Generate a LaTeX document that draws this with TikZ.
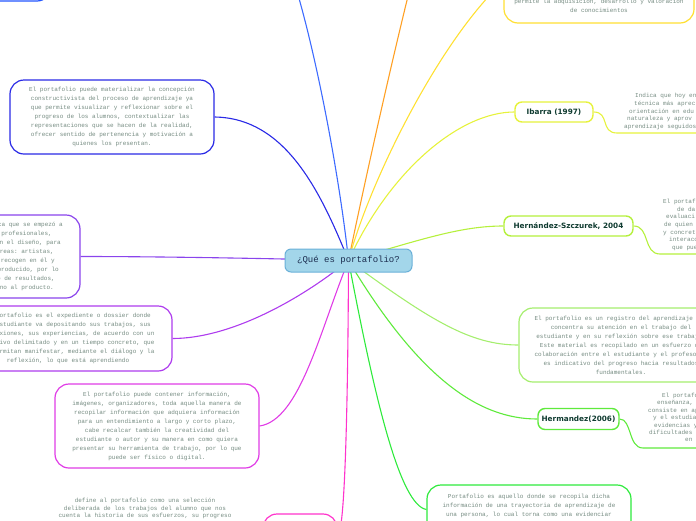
\documentclass[tikz,border=0pt]{standalone}
\usepackage{fontspec}
\setmonofont{Liberation Mono}
\newfontfamily\authfont{DejaVu Sans}
\usetikzlibrary{backgrounds}
\definecolor{txtc}{HTML}{768C82}
\definecolor{authc}{HTML}{0F3B30}
\definecolor{qfill}{HTML}{A3D6EA}
\definecolor{qborder}{HTML}{6AB0D8}
\definecolor{qtext}{HTML}{1C2D4F}
\definecolor{ctop}{HTML}{3D6BFF}
\definecolor{ctl}{HTML}{2255FF}
\definecolor{corange}{HTML}{FFA024}
\definecolor{cyellow}{HTML}{FFE033}
\definecolor{ciba}{HTML}{E6F23C}
\definecolor{chsz}{HTML}{B5F03C}
\definecolor{csix}{HTML}{A5EE6E}
\definecolor{choz}{HTML}{5FEA3C}
\definecolor{ceight}{HTML}{2EEA3C}
\definecolor{cpink}{HTML}{FF33CC}
\definecolor{cten}{HTML}{E03CE6}
\definecolor{celeven}{HTML}{AE3CEE}
\definecolor{ctwelve}{HTML}{8A44EC}
\definecolor{cthirteen}{HTML}{2A2AE6}
\newcommand\bxfont{\ttfamily\fontsize{6}{9}\selectfont}
\newcommand\kidfont{\ttfamily\fontsize{6}{7.6}\selectfont}
\newcommand\kidfontb{\ttfamily\fontsize{6}{7.4}\selectfont}
\begin{document}
\begin{tikzpicture}[x=1pt,y=-1pt,
  qbox/.style={draw=qborder, fill=qfill, line width=1pt, rounded corners=6pt, minimum width=127pt, minimum height=23pt, inner sep=0pt, font=\ttfamily\fontsize{9}{11}\selectfont, text=qtext},
  bigbox/.style={draw, line width=1.2pt, rounded corners=14pt, fill=white, inner sep=0pt},
  boxtext/.style={align=center, font=\bxfont, text=txtc},
  authbox/.style={draw, line width=1.4pt, rounded corners=7pt, fill=white, inner sep=0pt, font=\authfont\bfseries\fontsize{7.3}{9}\selectfont, text=authc, minimum height=20pt},
  kid/.style={align=left, font=\kidfont, text=txtc, inner sep=0pt, anchor=west},
  conn/.style={line width=1.1pt}]
\useasboundingbox (0,0) rectangle (696,520);

% central topic
\node[qbox] (q) at (348.5,260.5) {¿Qué es portafolio?};

% boxes, left side
\node[bigbox, draw=ctl, minimum width=202pt, minimum height=62pt] (tl) at (-50,-30) {};
\node[bigbox, draw=cthirteen, minimum width=204pt, minimum height=74pt, boxtext] (b13) at (112,117) {El portafolio puede materializar la concepción\\constructivista del proceso de aprendizaje ya\\que permite visualizar y reflexionar sobre el\\progreso de los alumnos, contextualizar las\\representaciones que se hacen de la realidad,\\ofrecer sentido de pertenencia y motivación a\\quienes los presentan.};
\node[bigbox, draw=ctwelve, minimum width=190pt, minimum height=83pt] (b12) at (-15,256.5) {};
\node[align=right, font=\bxfont, text=txtc, inner sep=0pt, anchor=east] (b12t) at (63,256.5) {\mbox{ica que se empezó a}\\\mbox{profesionales,\kern11pt}\\\mbox{en el diseño, para\kern2pt}\\\mbox{áreas: artistas,\kern9pt}\\\mbox{recogen en él y\kern8pt}\\\mbox{producido, por lo\kern4pt}\\\mbox{o de resultados,\kern8pt}\\\mbox{no al producto.\kern9pt}};
\node[bigbox, draw=celeven, minimum width=208pt, minimum height=65pt, boxtext] (b11) at (68,338.5) {El portafolio es el expediente o dossier donde\\el estudiante va depositando sus trabajos, sus\\reflexiones, sus experiencias, de acuerdo con un\\objetivo delimitado y en un tiempo concreto, que\\le permitan manifestar, mediante el diálogo y la\\reflexión, lo que está aprendiendo};
\node[bigbox, draw=cten, minimum width=204pt, minimum height=84pt, boxtext] (b10) at (157,426) {El portafolio puede contener información,\\imágenes, organizadores, toda aquella manera de\\recopilar información que adquiera información\\para un entendimiento a largo y corto plazo,\\cabe recalcar también la creatividad del\\estudiante o autor y su manera en como quiera\\presentar su herramienta de trabajo, por lo que\\puede ser físico o digital.};
\node[bigbox, draw=cpink, minimum width=74pt, minimum height=42pt] (pb) at (300,535) {};
\node[align=center, font=\kidfont, text=txtc, inner sep=0pt] (pbt) at (145,508.5) {define al portafolio como una selección\\deliberada de los trabajos del alumno que nos\\cuenta la historia de sus esfuerzos, su progreso};

% boxes, right side
\node[bigbox, draw=cyellow, minimum width=190pt, minimum height=83pt, boxtext] (yr) at (599,-18.5) {\mbox{}\\\mbox{}\\\mbox{}\\\mbox{}\\\mbox{}\\\mbox{}\\permite la adquisición, desarrollo y valoración\\de conocimientos};
\node[authbox, draw=ciba, minimum width=78pt] (iba) at (554,112) {Ibarra (1997)};
\node[kid] (ibt) at (624,111.5) {\mbox{\kern11pt Indica que hoy en}\\\mbox{\kern10pt técnica más aprec}\\\mbox{\kern5pt orientación en edu}\\\mbox{\kern3pt naturaleza y aprov}\\\mbox{aprendizaje seguidos}};
\node[authbox, draw=chsz, minimum width=129pt] (hsz) at (568.5,226) {Hernández-Szczurek, 2004};
\node[kid] (hst) at (663,225) {\mbox{El portaf}\\\mbox{\kern14pt de da}\\\mbox{\kern3pt evaluaci}\\\mbox{\kern1pt de quien}\\\mbox{y concret}\\\mbox{\kern6pt interacc}\\\mbox{\kern9pt que pue}};
\node[bigbox, draw=csix, minimum width=204pt, minimum height=74pt, boxtext] (b6) at (621,345) {El portafolio es un registro del aprendizaje que\\concentra su atención en el trabajo del\\estudiante y en su reflexión sobre ese trabajo.\\Este material es recopilado en un esfuerzo de\\colaboración entre el estudiante y el profesor y\\es indicativo del progreso hacia resultados\\fundamentales.};
\node[authbox, draw=choz, minimum width=81pt, minimum height=21pt] (h06) at (578.5,419) {Hermandez(2006)};
\node[kid, font=\kidfontb] (h6t) at (648,417.5) {\mbox{\kern14pt El portafo}\\\mbox{\kern9pt enseñanza,}\\\mbox{consiste en ap}\\\mbox{\kern5pt y el estudia}\\\mbox{\kern6pt evidencias y}\\\mbox{\kern1pt dificultades}\\\mbox{\kern37pt en}};
\node[bigbox, draw=ceight, minimum width=204pt, minimum height=49pt, boxtext] (b8) at (529,509.5) {Portafolio es aquello donde se recopila dicha\\información de una trayectoria de aprendizaje de\\una persona, lo cual torna como una evidenciar\\\mbox{}};

% free ends and underlines
\coordinate (topc) at (292,-25);
\coordinate (orc) at (412,-20);
\coordinate (ibl) at (617,133);
\coordinate (ibr) at (720,133);
\coordinate (hsl) at (660,254);
\coordinate (hsr) at (720,254);
\coordinate (h6l) at (643,448);
\coordinate (h6r) at (720,448);

\begin{scope}[on background layer]
\draw[conn, ctop] (q.center) .. controls (340,180) and (316,50) .. (topc);
\draw[conn, corange] (q.center) .. controls (365,180) and (392,60) .. (orc);
\draw[conn, cyellow] (q.center) .. controls (370,180) and (440,40) .. (yr.west);
\draw[conn, ciba] (q.center) .. controls (390,170) and (460,112) .. (iba.west);
\draw[conn, chsz] (q.center) .. controls (420,240) and (460,226) .. (hsz.west);
\draw[conn, csix] (q.center) .. controls (430,320) and (470,345) .. (b6.west);
\draw[conn, choz] (q.center) .. controls (420,380) and (480,419) .. (h06.west);
\draw[conn, ceight] (q.center) .. controls (375,400) and (400,505) .. (b8.west);
\draw[conn, cpink] (q.center) .. controls (348,400) and (345,535) .. (pb.east);
\draw[conn, cten] (q.center) .. controls (320,330) and (300,420) .. (b10.east);
\draw[conn, celeven] (q.center) .. controls (300,300) and (230,338.5) .. (b11.east);
\draw[conn, ctwelve] (q.center) .. controls (250,258) and (150,256.5) .. (b12.east);
\draw[conn, cthirteen] (q.center) .. controls (320,190) and (285,118) .. (b13.east);
\draw[conn, ciba] (iba.east) .. controls (610,112) and (600,133) .. (ibl) -- (ibr);
\draw[conn, chsz] (hsz.east) .. controls (650,226) and (643,254) .. (hsl) -- (hsr);
\draw[conn, choz] (h06.east) .. controls (632,419) and (628,448) .. (h6l) -- (h6r);
\end{scope}
\end{tikzpicture}
\end{document}
